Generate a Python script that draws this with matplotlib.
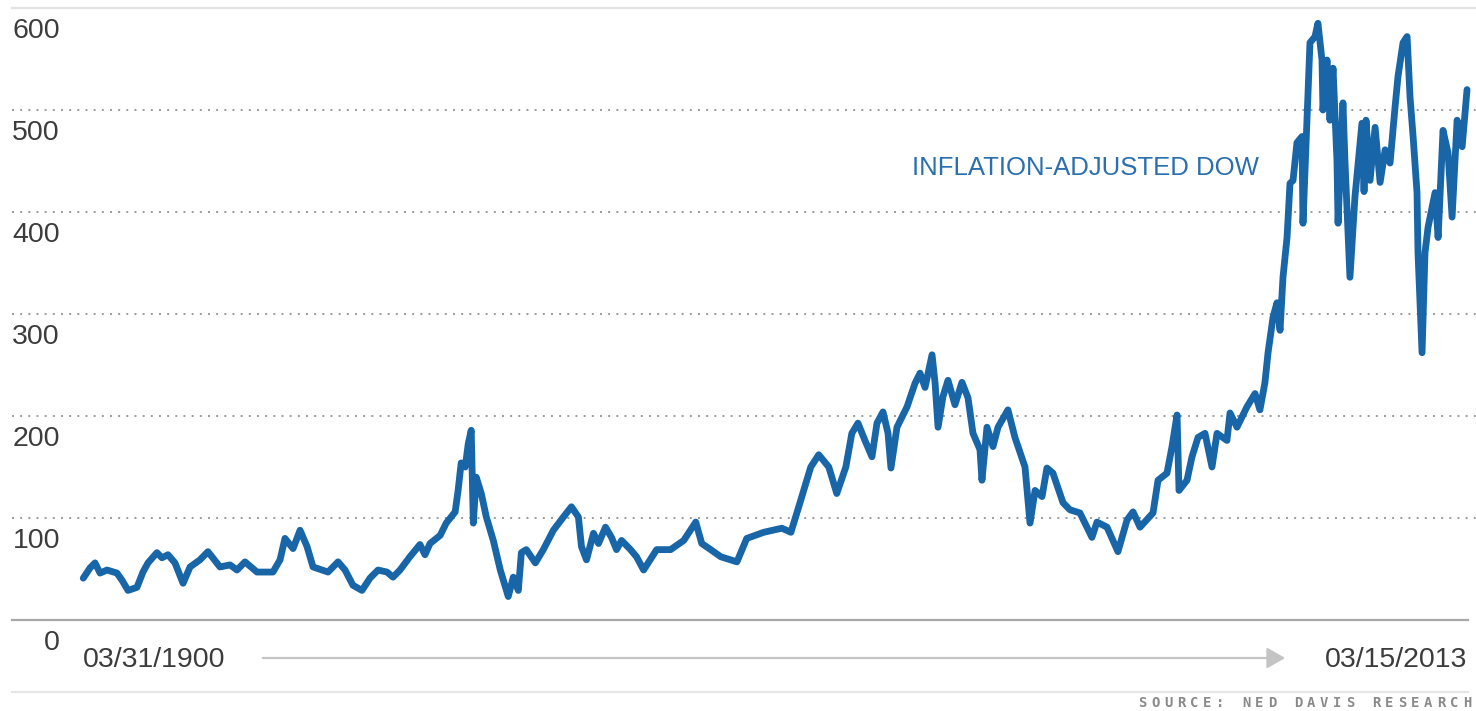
import matplotlib
matplotlib.use("Agg")
import matplotlib.pyplot as plt

# Inflation-adjusted Dow Jones Industrial Average, 1900-2013
years = [
    1900.27, 1900.82, 1901.23, 1901.64, 1902.21, 1903.02, 1903.43, 1903.92, 1904.65,
    1905.14, 1905.55, 1906.28, 1906.69, 1907.18, 1907.75, 1908.41, 1908.98, 1909.79,
    1910.44, 1911.42, 1912.24, 1912.81, 1913.46, 1914.44, 1915.74, 1916.32, 1916.72,
    1917.38, 1917.95, 1918.52, 1919.01, 1920.23, 1921.05, 1921.62, 1922.27, 1923.00,
    1923.65, 1924.31, 1925.04, 1925.53, 1926.10, 1926.91, 1927.73, 1928.14, 1928.55,
    1929.38, 1929.87, 1930.60, 1930.84, 1931.09, 1931.42, 1931.67, 1931.91, 1932.08,
    1932.32, 1932.73, 1933.14, 1933.71, 1934.28, 1934.93, 1935.34, 1935.75, 1936.00,
    1936.40, 1937.14, 1937.79, 1938.61, 1939.43, 1940.08, 1940.65, 1940.90, 1941.31,
    1941.88, 1942.29, 1942.86, 1943.35, 1943.76, 1944.17, 1944.90, 1945.39, 1945.97,
    1947.03, 1948.17, 1949.24, 1950.22, 1950.71, 1951.44, 1952.26, 1953.58, 1954.38,
    1955.77, 1957.24, 1957.98, 1958.62, 1959.60, 1960.25, 1961.07, 1961.72, 1962.46,
    1962.95, 1963.45, 1964.02, 1964.59, 1965.00, 1965.49, 1965.90, 1966.14, 1966.63,
    1967.45, 1968.10, 1968.51, 1968.92, 1969.49, 1969.74, 1969.98, 1970.38, 1970.79,
    1971.36, 1971.93, 1972.42, 1972.83, 1973.40, 1973.56, 1973.97, 1974.46, 1974.87,
    1975.68, 1976.25, 1977.07, 1977.48, 1977.89, 1978.46, 1978.86, 1979.35, 1980.17,
    1980.74, 1981.55, 1982.53, 1982.94, 1983.76, 1984.65, 1985.39, 1985.88, 1986.45,
    1987.51, 1987.92, 1988.65, 1989.06, 1989.47, 1989.63, 1990.28, 1990.69, 1991.18,
    1991.75, 1992.32, 1992.73, 1993.54, 1993.79, 1994.36, 1995.17, 1995.83, 1996.23,
    1996.64, 1996.89, 1997.30, 1997.62, 1997.87, 1998.11, 1998.44, 1998.68, 1998.93,
    1999.25, 1999.66, 1999.74, 2000.07, 2000.31, 2000.72, 2000.96, 2001.29, 2001.37,
    2001.70, 2001.94, 2002.19, 2002.51, 2002.60, 2003.00, 2003.16, 2003.57, 2003.98,
    2004.55, 2004.72, 2004.88, 2005.21, 2005.62, 2006.03, 2006.44, 2006.84, 2007.25,
    2007.49, 2007.90, 2008.23, 2008.47, 2008.72, 2009.04, 2009.12, 2009.45, 2009.69,
    2009.94, 2010.51, 2010.76, 2011.16, 2011.57, 2011.90, 2012.31, 2012.72, 2013.12,
]
dow_real = [
    41, 51, 56, 46, 49, 46, 39, 29, 32,
    47, 56, 66, 61, 64, 56, 36, 52, 59,
    67, 52, 54, 49, 57, 47, 47, 59, 80,
    70, 88, 72, 52, 47, 57, 49, 34, 29,
    41, 49, 47, 42, 49, 62, 74, 64, 75,
    83, 95, 106, 127, 154, 150, 173, 186, 95,
    140, 124, 101, 78, 49, 23, 42, 29, 66,
    69, 56, 69, 88, 101, 111, 101, 72, 59,
    85, 75, 91, 81, 69, 78, 69, 62, 49,
    69, 69, 78, 96, 75, 69, 62, 57, 80,
    86, 90, 86, 111, 150, 162, 150, 124, 150,
    183, 193, 176, 160, 193, 204, 183, 149, 189,
    209, 232, 242, 228, 260, 232, 189, 219, 235,
    211, 233, 218, 183, 167, 137, 189, 170, 189,
    206, 179, 150, 95, 127, 121, 149, 144, 115,
    108, 105, 81, 96, 91, 67, 98, 106, 91,
    105, 137, 144, 170, 201, 127, 137, 160, 179,
    183, 150, 183, 176, 203, 189, 209, 222, 206,
    233, 262, 297, 311, 284, 336, 375, 428, 431,
    468, 474, 389, 490, 566, 572, 585, 549, 500,
    549, 490, 541, 451, 389, 507, 451, 336, 415,
    487, 420, 490, 431, 483, 429, 461, 448, 503,
    533, 566, 572, 513, 474, 419, 360, 262, 360,
    385, 419, 375, 480, 458, 395, 490, 464, 520,
]

y_ticks = [0, 100, 200, 300, 400, 500, 600]
start_label = "03/31/1900"
end_label = "03/15/2013"
series_label = "INFLATION-ADJUSTED DOW"
source_note = "SOURCE: NED DAVIS RESEARCH"

LINE_BLUE = "#1866a7"
TEXT_GREY = "#3c3c3c"

W, H = 1476, 711
fig = plt.figure(figsize=(W / 100, H / 100), dpi=100)
fig.patch.set_facecolor("white")

# plotting band: y=0 at 620 px from the top, y=600 at 8 px
ax = fig.add_axes([12 / W, (H - 620) / H, 1464 / W, 612 / H])
ax.set_xlim(1894.46, 2013.85)
ax.set_ylim(0, 600)
ax.axis("off")

# grid: dotted interior lines, solid top and bottom rules
for v in y_ticks[1:-1]:
    ax.axhline(v, color="#9a9a9a", lw=1.4, ls=(0, (1, 3.2)), zorder=1)
ax.axhline(600, color="#e2e2e2", lw=1.6, zorder=1, clip_on=False)
ax.axhline(0, xmax=1456 / 1464, color="#a8a8a8", lw=1.6, zorder=1, clip_on=False)

# y labels, right-aligned, hanging just below their gridline
for v in y_ticks:
    ax.annotate(str(v), xy=(0, v), xycoords=("axes fraction", "data"),
                xytext=(48, -10), textcoords="offset pixels",
                ha="right", va="top", fontsize=20.5,
                family="Liberation Sans", color=TEXT_GREY)

ax.plot(years, dow_real, color=LINE_BLUE, lw=4.9, solid_joinstyle="round",
        solid_capstyle="round", zorder=3, clip_on=False)

ax.text(1967.86, 443, series_label, fontsize=18.5, family="Liberation Sans",
        color="#2b6fae", ha="left", va="center")

# date range footer
fig.text(83 / W, 1 - 660 / H, start_label, fontsize=20.5, family="Liberation Sans",
         color=TEXT_GREY, ha="left", va="center")
fig.text(1467 / W, 1 - 660 / H, end_label, fontsize=20.5, family="Liberation Sans",
         color=TEXT_GREY, ha="right", va="center")
fig.add_artist(matplotlib.patches.FancyArrowPatch(
    (260 / W, 1 - 658 / H), (1288 / W, 1 - 658 / H), transform=fig.transFigure,
    arrowstyle="-|>,head_length=7,head_width=4", mutation_scale=1.6,
    color="#c4c4c4", lw=1.6))
fig.add_artist(matplotlib.lines.Line2D([12 / W, 1468 / W], [1 - 692 / H, 1 - 692 / H],
                                       transform=fig.transFigure, color="#e6e6e6", lw=1.6))

# source note in spaced monospace letters
pitch = 13.0
x0 = 1138
for i, ch in enumerate(source_note):
    fig.text((x0 + i * pitch) / W, 1 - 703 / H, ch, fontsize=10, fontweight="bold",
             family="DejaVu Sans Mono", color="#8a8a8a", ha="left", va="center")

fig.savefig("out.png", dpi=100, facecolor="white")
